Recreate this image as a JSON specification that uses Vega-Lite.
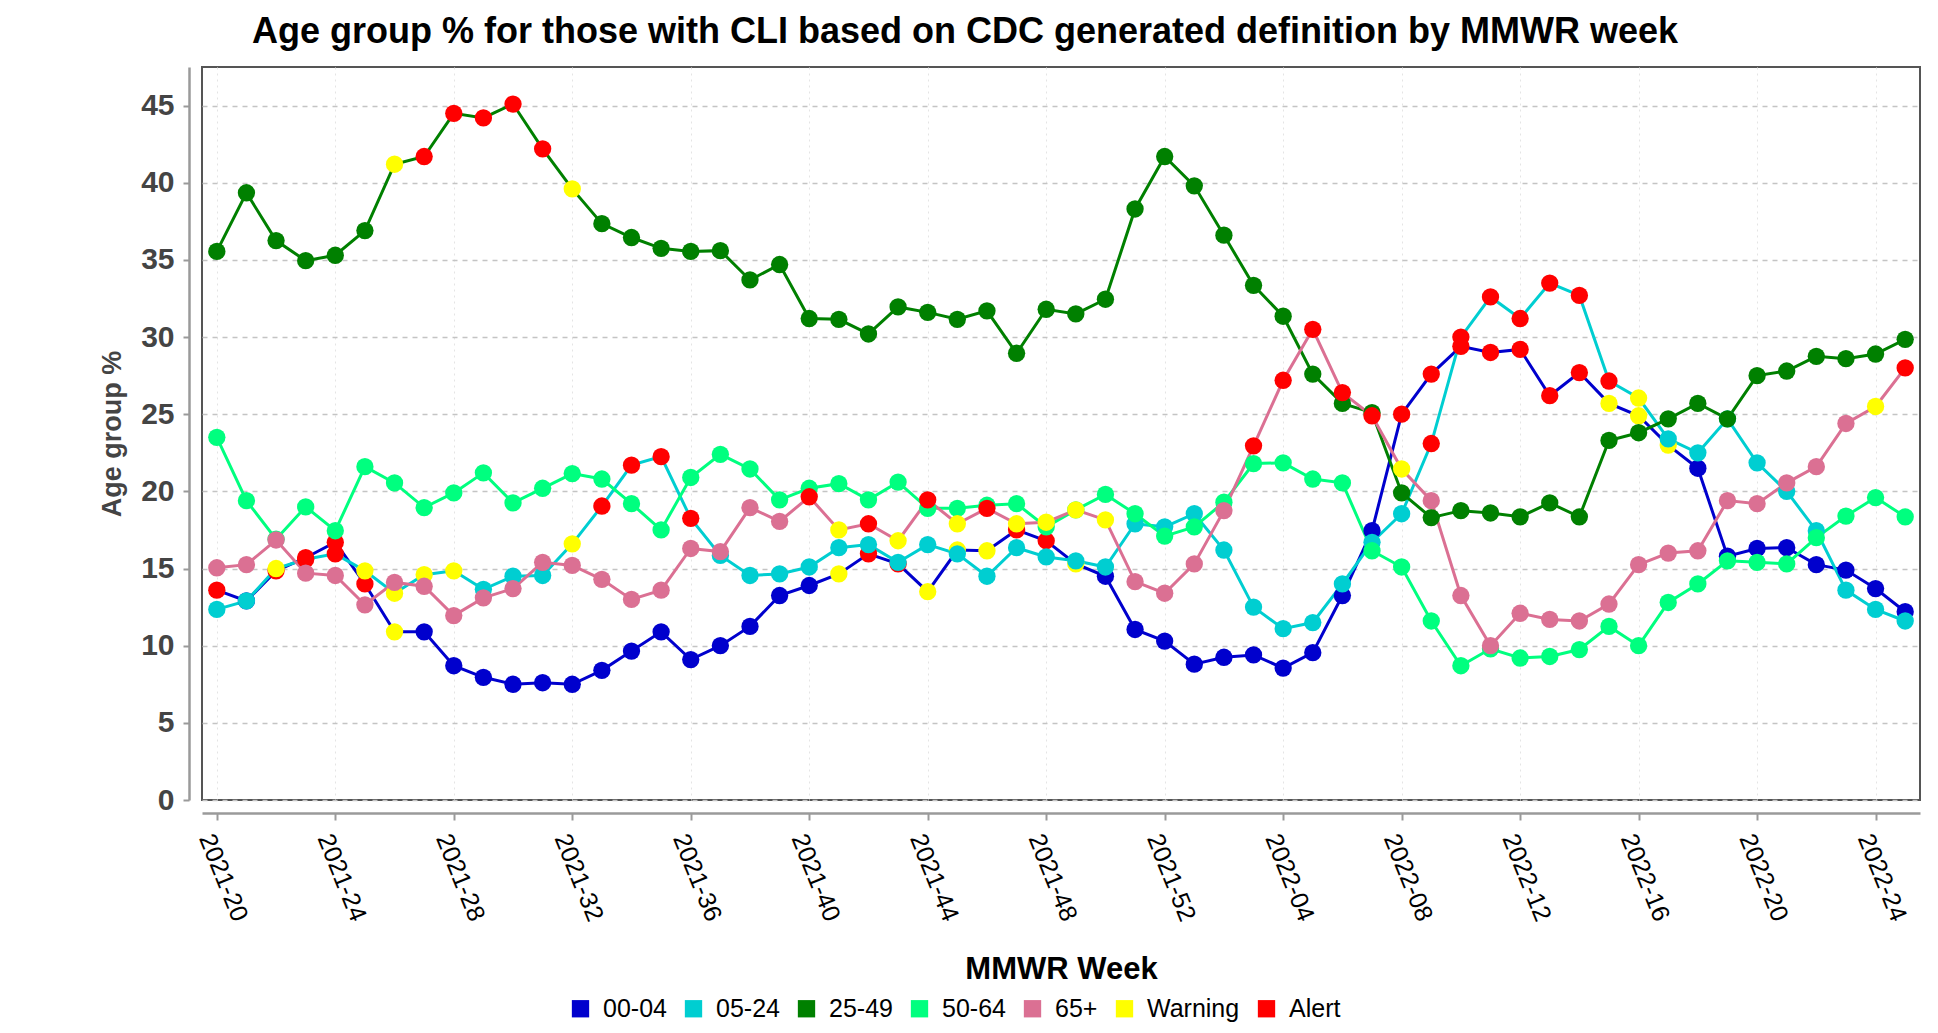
{
"$schema": "https://vega.github.io/schema/vega-lite/v6.json",
"width": 1718,
"height": 733,
"autosize": {"type": "none"},
"padding": {"left": 202, "top": 67, "right": 18, "bottom": 233},
"background": "white",
"config": {
  "font": "Liberation Sans",
  "view": {"stroke": "#555555", "strokeWidth": 2}
},
"title": {"text": "Age group % for those with CLI based on CDC generated definition by MMWR week", "anchor": "middle", "frame": "group", "dx": -96, "dy": 36, "offset": 24, "baseline": "alphabetic", "fontSize": 36, "fontWeight": "bold", "color": "black", "font": "Liberation Sans"},
"datasets": {
"cli": [
{"w":"2021-20","g":"00-04","v":13.6,"s":"Alert"},{"w":"2021-21","g":"00-04","v":12.9},{"w":"2021-22","g":"00-04","v":14.85,"s":"Alert"},{"w":"2021-23","g":"00-04","v":15.7,"s":"Alert"},{"w":"2021-24","g":"00-04","v":16.7,"s":"Alert"},{"w":"2021-25","g":"00-04","v":14.0,"s":"Alert"},{"w":"2021-26","g":"00-04","v":10.9,"s":"Warning"},{"w":"2021-27","g":"00-04","v":10.9},{"w":"2021-28","g":"00-04","v":8.7},{"w":"2021-29","g":"00-04","v":7.95},{"w":"2021-30","g":"00-04","v":7.5},{"w":"2021-31","g":"00-04","v":7.6},{"w":"2021-32","g":"00-04","v":7.5},{"w":"2021-33","g":"00-04","v":8.4},{"w":"2021-34","g":"00-04","v":9.65},{"w":"2021-35","g":"00-04","v":10.9},{"w":"2021-36","g":"00-04","v":9.1},{"w":"2021-37","g":"00-04","v":10.0},{"w":"2021-38","g":"00-04","v":11.25},{"w":"2021-39","g":"00-04","v":13.25},{"w":"2021-40","g":"00-04","v":13.9},{"w":"2021-41","g":"00-04","v":14.65,"s":"Warning"},{"w":"2021-42","g":"00-04","v":15.95,"s":"Alert"},{"w":"2021-43","g":"00-04","v":15.3,"s":"Alert"},{"w":"2021-44","g":"00-04","v":13.5,"s":"Warning"},{"w":"2021-45","g":"00-04","v":16.2,"s":"Warning"},{"w":"2021-46","g":"00-04","v":16.15,"s":"Warning"},{"w":"2021-47","g":"00-04","v":17.5,"s":"Alert"},{"w":"2021-48","g":"00-04","v":16.8,"s":"Alert"},{"w":"2021-49","g":"00-04","v":15.3,"s":"Warning"},{"w":"2021-50","g":"00-04","v":14.5},{"w":"2021-51","g":"00-04","v":11.05},{"w":"2021-52","g":"00-04","v":10.3},{"w":"2022-01","g":"00-04","v":8.8},{"w":"2022-02","g":"00-04","v":9.25},{"w":"2022-03","g":"00-04","v":9.4},{"w":"2022-04","g":"00-04","v":8.55},{"w":"2022-05","g":"00-04","v":9.55},{"w":"2022-06","g":"00-04","v":13.25},{"w":"2022-07","g":"00-04","v":17.45},{"w":"2022-08","g":"00-04","v":25.0,"s":"Alert"},{"w":"2022-09","g":"00-04","v":27.6,"s":"Alert"},{"w":"2022-10","g":"00-04","v":29.4,"s":"Alert"},{"w":"2022-11","g":"00-04","v":29.0,"s":"Alert"},{"w":"2022-12","g":"00-04","v":29.2,"s":"Alert"},{"w":"2022-13","g":"00-04","v":26.2,"s":"Alert"},{"w":"2022-14","g":"00-04","v":27.7,"s":"Alert"},{"w":"2022-15","g":"00-04","v":25.7,"s":"Warning"},{"w":"2022-16","g":"00-04","v":24.9,"s":"Warning"},{"w":"2022-17","g":"00-04","v":23.0,"s":"Warning"},{"w":"2022-18","g":"00-04","v":21.5},{"w":"2022-19","g":"00-04","v":15.8},{"w":"2022-20","g":"00-04","v":16.3},{"w":"2022-21","g":"00-04","v":16.35},{"w":"2022-22","g":"00-04","v":15.25},{"w":"2022-23","g":"00-04","v":14.9},{"w":"2022-24","g":"00-04","v":13.7},{"w":"2022-25","g":"00-04","v":12.2},
{"w":"2021-20","g":"05-24","v":12.35},{"w":"2021-21","g":"05-24","v":12.9},{"w":"2021-22","g":"05-24","v":15.0,"s":"Warning"},{"w":"2021-23","g":"05-24","v":15.6,"s":"Alert"},{"w":"2021-24","g":"05-24","v":15.95,"s":"Alert"},{"w":"2021-25","g":"05-24","v":14.85,"s":"Warning"},{"w":"2021-26","g":"05-24","v":13.4,"s":"Warning"},{"w":"2021-27","g":"05-24","v":14.6,"s":"Warning"},{"w":"2021-28","g":"05-24","v":14.85,"s":"Warning"},{"w":"2021-29","g":"05-24","v":13.65},{"w":"2021-30","g":"05-24","v":14.5},{"w":"2021-31","g":"05-24","v":14.55},{"w":"2021-32","g":"05-24","v":16.6,"s":"Warning"},{"w":"2021-33","g":"05-24","v":19.05,"s":"Alert"},{"w":"2021-34","g":"05-24","v":21.7,"s":"Alert"},{"w":"2021-35","g":"05-24","v":22.25,"s":"Alert"},{"w":"2021-36","g":"05-24","v":18.25,"s":"Alert"},{"w":"2021-37","g":"05-24","v":15.85},{"w":"2021-38","g":"05-24","v":14.55},{"w":"2021-39","g":"05-24","v":14.65},{"w":"2021-40","g":"05-24","v":15.1},{"w":"2021-41","g":"05-24","v":16.35},{"w":"2021-42","g":"05-24","v":16.55},{"w":"2021-43","g":"05-24","v":15.4},{"w":"2021-44","g":"05-24","v":16.55},{"w":"2021-45","g":"05-24","v":15.95},{"w":"2021-46","g":"05-24","v":14.5},{"w":"2021-47","g":"05-24","v":16.35},{"w":"2021-48","g":"05-24","v":15.75},{"w":"2021-49","g":"05-24","v":15.5},{"w":"2021-50","g":"05-24","v":15.1},{"w":"2021-51","g":"05-24","v":17.9},{"w":"2021-52","g":"05-24","v":17.7},{"w":"2022-01","g":"05-24","v":18.55},{"w":"2022-02","g":"05-24","v":16.2},{"w":"2022-03","g":"05-24","v":12.5},{"w":"2022-04","g":"05-24","v":11.1},{"w":"2022-05","g":"05-24","v":11.5},{"w":"2022-06","g":"05-24","v":14.0},{"w":"2022-07","g":"05-24","v":16.7},{"w":"2022-08","g":"05-24","v":18.55},{"w":"2022-09","g":"05-24","v":23.1,"s":"Alert"},{"w":"2022-10","g":"05-24","v":30.0,"s":"Alert"},{"w":"2022-11","g":"05-24","v":32.6,"s":"Alert"},{"w":"2022-12","g":"05-24","v":31.2,"s":"Alert"},{"w":"2022-13","g":"05-24","v":33.5,"s":"Alert"},{"w":"2022-14","g":"05-24","v":32.7,"s":"Alert"},{"w":"2022-15","g":"05-24","v":27.15,"s":"Alert"},{"w":"2022-16","g":"05-24","v":26.05,"s":"Warning"},{"w":"2022-17","g":"05-24","v":23.4},{"w":"2022-18","g":"05-24","v":22.5},{"w":"2022-19","g":"05-24","v":24.7},{"w":"2022-20","g":"05-24","v":21.85},{"w":"2022-21","g":"05-24","v":20.0},{"w":"2022-22","g":"05-24","v":17.45},{"w":"2022-23","g":"05-24","v":13.6},{"w":"2022-24","g":"05-24","v":12.35},{"w":"2022-25","g":"05-24","v":11.6},
{"w":"2021-20","g":"25-49","v":35.55},{"w":"2021-21","g":"25-49","v":39.35},{"w":"2021-22","g":"25-49","v":36.25},{"w":"2021-23","g":"25-49","v":34.95},{"w":"2021-24","g":"25-49","v":35.3},{"w":"2021-25","g":"25-49","v":36.9},{"w":"2021-26","g":"25-49","v":41.2,"s":"Warning"},{"w":"2021-27","g":"25-49","v":41.7,"s":"Alert"},{"w":"2021-28","g":"25-49","v":44.5,"s":"Alert"},{"w":"2021-29","g":"25-49","v":44.2,"s":"Alert"},{"w":"2021-30","g":"25-49","v":45.1,"s":"Alert"},{"w":"2021-31","g":"25-49","v":42.2,"s":"Alert"},{"w":"2021-32","g":"25-49","v":39.6,"s":"Warning"},{"w":"2021-33","g":"25-49","v":37.35},{"w":"2021-34","g":"25-49","v":36.45},{"w":"2021-35","g":"25-49","v":35.75},{"w":"2021-36","g":"25-49","v":35.55},{"w":"2021-37","g":"25-49","v":35.6},{"w":"2021-38","g":"25-49","v":33.7},{"w":"2021-39","g":"25-49","v":34.7},{"w":"2021-40","g":"25-49","v":31.2},{"w":"2021-41","g":"25-49","v":31.15},{"w":"2021-42","g":"25-49","v":30.2},{"w":"2021-43","g":"25-49","v":31.95},{"w":"2021-44","g":"25-49","v":31.6},{"w":"2021-45","g":"25-49","v":31.15},{"w":"2021-46","g":"25-49","v":31.7},{"w":"2021-47","g":"25-49","v":28.95},{"w":"2021-48","g":"25-49","v":31.8},{"w":"2021-49","g":"25-49","v":31.5},{"w":"2021-50","g":"25-49","v":32.45},{"w":"2021-51","g":"25-49","v":38.3},{"w":"2021-52","g":"25-49","v":41.7},{"w":"2022-01","g":"25-49","v":39.8},{"w":"2022-02","g":"25-49","v":36.6},{"w":"2022-03","g":"25-49","v":33.35},{"w":"2022-04","g":"25-49","v":31.35},{"w":"2022-05","g":"25-49","v":27.6},{"w":"2022-06","g":"25-49","v":25.7},{"w":"2022-07","g":"25-49","v":25.1},{"w":"2022-08","g":"25-49","v":19.9},{"w":"2022-09","g":"25-49","v":18.3},{"w":"2022-10","g":"25-49","v":18.75},{"w":"2022-11","g":"25-49","v":18.6},{"w":"2022-12","g":"25-49","v":18.35},{"w":"2022-13","g":"25-49","v":19.25},{"w":"2022-14","g":"25-49","v":18.35},{"w":"2022-15","g":"25-49","v":23.3},{"w":"2022-16","g":"25-49","v":23.8},{"w":"2022-17","g":"25-49","v":24.7},{"w":"2022-18","g":"25-49","v":25.7},{"w":"2022-19","g":"25-49","v":24.7},{"w":"2022-20","g":"25-49","v":27.5},{"w":"2022-21","g":"25-49","v":27.8},{"w":"2022-22","g":"25-49","v":28.75},{"w":"2022-23","g":"25-49","v":28.6},{"w":"2022-24","g":"25-49","v":28.9},{"w":"2022-25","g":"25-49","v":29.85},
{"w":"2021-20","g":"50-64","v":23.5},{"w":"2021-21","g":"50-64","v":19.4},{"w":"2021-22","g":"50-64","v":16.9},{"w":"2021-23","g":"50-64","v":19.0},{"w":"2021-24","g":"50-64","v":17.45},{"w":"2021-25","g":"50-64","v":21.6},{"w":"2021-26","g":"50-64","v":20.55},{"w":"2021-27","g":"50-64","v":18.95},{"w":"2021-28","g":"50-64","v":19.9},{"w":"2021-29","g":"50-64","v":21.2},{"w":"2021-30","g":"50-64","v":19.25},{"w":"2021-31","g":"50-64","v":20.2},{"w":"2021-32","g":"50-64","v":21.15},{"w":"2021-33","g":"50-64","v":20.8},{"w":"2021-34","g":"50-64","v":19.2},{"w":"2021-35","g":"50-64","v":17.5},{"w":"2021-36","g":"50-64","v":20.9},{"w":"2021-37","g":"50-64","v":22.4},{"w":"2021-38","g":"50-64","v":21.45},{"w":"2021-39","g":"50-64","v":19.45},{"w":"2021-40","g":"50-64","v":20.2},{"w":"2021-41","g":"50-64","v":20.5},{"w":"2021-42","g":"50-64","v":19.45},{"w":"2021-43","g":"50-64","v":20.6},{"w":"2021-44","g":"50-64","v":18.9},{"w":"2021-45","g":"50-64","v":18.9},{"w":"2021-46","g":"50-64","v":19.1},{"w":"2021-47","g":"50-64","v":19.2},{"w":"2021-48","g":"50-64","v":17.7},{"w":"2021-49","g":"50-64","v":18.8},{"w":"2021-50","g":"50-64","v":19.8},{"w":"2021-51","g":"50-64","v":18.55},{"w":"2021-52","g":"50-64","v":17.1},{"w":"2022-01","g":"50-64","v":17.7},{"w":"2022-02","g":"50-64","v":19.3},{"w":"2022-03","g":"50-64","v":21.8},{"w":"2022-04","g":"50-64","v":21.85},{"w":"2022-05","g":"50-64","v":20.8},{"w":"2022-06","g":"50-64","v":20.55},{"w":"2022-07","g":"50-64","v":16.15},{"w":"2022-08","g":"50-64","v":15.1},{"w":"2022-09","g":"50-64","v":11.6},{"w":"2022-10","g":"50-64","v":8.7},{"w":"2022-11","g":"50-64","v":9.8},{"w":"2022-12","g":"50-64","v":9.2},{"w":"2022-13","g":"50-64","v":9.3},{"w":"2022-14","g":"50-64","v":9.75},{"w":"2022-15","g":"50-64","v":11.25},{"w":"2022-16","g":"50-64","v":10.0},{"w":"2022-17","g":"50-64","v":12.8},{"w":"2022-18","g":"50-64","v":14.0},{"w":"2022-19","g":"50-64","v":15.5},{"w":"2022-20","g":"50-64","v":15.4},{"w":"2022-21","g":"50-64","v":15.3},{"w":"2022-22","g":"50-64","v":17.0},{"w":"2022-23","g":"50-64","v":18.4},{"w":"2022-24","g":"50-64","v":19.6},{"w":"2022-25","g":"50-64","v":18.35},
{"w":"2021-20","g":"65+","v":15.05},{"w":"2021-21","g":"65+","v":15.25},{"w":"2021-22","g":"65+","v":16.85},{"w":"2021-23","g":"65+","v":14.7},{"w":"2021-24","g":"65+","v":14.55},{"w":"2021-25","g":"65+","v":12.65},{"w":"2021-26","g":"65+","v":14.1},{"w":"2021-27","g":"65+","v":13.85},{"w":"2021-28","g":"65+","v":11.95},{"w":"2021-29","g":"65+","v":13.1},{"w":"2021-30","g":"65+","v":13.7},{"w":"2021-31","g":"65+","v":15.4},{"w":"2021-32","g":"65+","v":15.2},{"w":"2021-33","g":"65+","v":14.3},{"w":"2021-34","g":"65+","v":13.0},{"w":"2021-35","g":"65+","v":13.6},{"w":"2021-36","g":"65+","v":16.3},{"w":"2021-37","g":"65+","v":16.1},{"w":"2021-38","g":"65+","v":18.95},{"w":"2021-39","g":"65+","v":18.05},{"w":"2021-40","g":"65+","v":19.65,"s":"Alert"},{"w":"2021-41","g":"65+","v":17.5,"s":"Warning"},{"w":"2021-42","g":"65+","v":17.9,"s":"Alert"},{"w":"2021-43","g":"65+","v":16.8,"s":"Warning"},{"w":"2021-44","g":"65+","v":19.45,"s":"Alert"},{"w":"2021-45","g":"65+","v":17.9,"s":"Warning"},{"w":"2021-46","g":"65+","v":18.9,"s":"Alert"},{"w":"2021-47","g":"65+","v":17.9,"s":"Warning"},{"w":"2021-48","g":"65+","v":18.0,"s":"Warning"},{"w":"2021-49","g":"65+","v":18.8,"s":"Warning"},{"w":"2021-50","g":"65+","v":18.15,"s":"Warning"},{"w":"2021-51","g":"65+","v":14.15},{"w":"2021-52","g":"65+","v":13.4},{"w":"2022-01","g":"65+","v":15.3},{"w":"2022-02","g":"65+","v":18.75},{"w":"2022-03","g":"65+","v":22.95,"s":"Alert"},{"w":"2022-04","g":"65+","v":27.2,"s":"Alert"},{"w":"2022-05","g":"65+","v":30.5,"s":"Alert"},{"w":"2022-06","g":"65+","v":26.4,"s":"Alert"},{"w":"2022-07","g":"65+","v":24.9,"s":"Alert"},{"w":"2022-08","g":"65+","v":21.45,"s":"Warning"},{"w":"2022-09","g":"65+","v":19.4},{"w":"2022-10","g":"65+","v":13.25},{"w":"2022-11","g":"65+","v":10.0},{"w":"2022-12","g":"65+","v":12.1},{"w":"2022-13","g":"65+","v":11.7},{"w":"2022-14","g":"65+","v":11.6},{"w":"2022-15","g":"65+","v":12.7},{"w":"2022-16","g":"65+","v":15.25},{"w":"2022-17","g":"65+","v":16.0},{"w":"2022-18","g":"65+","v":16.15},{"w":"2022-19","g":"65+","v":19.4},{"w":"2022-20","g":"65+","v":19.2},{"w":"2022-21","g":"65+","v":20.55},{"w":"2022-22","g":"65+","v":21.6},{"w":"2022-23","g":"65+","v":24.4},{"w":"2022-24","g":"65+","v":25.5,"s":"Warning"},{"w":"2022-25","g":"65+","v":28.0,"s":"Alert"}
]
},
"data": {"name": "cli"},
"transform": [{"calculate": "isValid(datum.s) ? datum.s : datum.g", "as": "cat"}],
"encoding": {
  "x": {"field": "w", "type": "ordinal", "scale": {"type": "point", "padding": 0.5},
    "axis": {"values": ["2021-20","2021-24","2021-28","2021-32","2021-36","2021-40","2021-44","2021-48","2021-52","2022-04","2022-08","2022-12","2022-16","2022-20","2022-24"],
      "offset": 13, "domainColor": "#9a9a9a", "domainWidth": 2.5, "tickColor": "#9a9a9a", "tickWidth": 2, "tickSize": 7,
      "labelAngle": 68, "labelAlign": "left", "labelBaseline": "top", "labelFontSize": 25, "labelColor": "black", "labelPadding": 10,
      "grid": true, "gridColor": "#e4e4e4", "gridDash": [2, 4], "gridWidth": 1,
      "title": "MMWR Week", "titleFontSize": 31, "titleFontWeight": "bold", "titleColor": "black", "titlePadding": 30}},
  "y": {"field": "v", "type": "quantitative", "scale": {"domain": [0, 47.5], "nice": false},
    "axis": {"values": [0,5,10,15,20,25,30,35,40,45], "offset": 13, "domainColor": "#9a9a9a", "domainWidth": 2.5, "tickColor": "#9a9a9a", "tickWidth": 2, "tickSize": 6,
      "labelFontSize": 30, "labelFontWeight": "bold", "labelColor": "#444444", "labelPadding": 9,
      "grid": true, "gridColor": "#c4c4c4", "gridDash": [5, 5], "gridWidth": 1.5,
      "title": "Age group %", "titleFontSize": 27, "titleFontWeight": "bold", "titleColor": "#444444", "titlePadding": 14}}
},
"resolve": {"legend": {"color": "independent"}},
"layer": [
  {"mark": {"type": "line", "strokeWidth": 3},
   "encoding": {"color": {"field": "g", "type": "nominal",
     "scale": {"domain": ["00-04","05-24","25-49","50-64","65+","Warning","Alert"], "range": ["#0000CD","#00CED1","#008000","#00FF7F","#DB7093","#FFFF00","#FF0000"]},
     "legend": null}}},
  {"mark": {"type": "point", "filled": true, "size": 300, "opacity": 1},
   "encoding": {"color": {"field": "cat", "type": "nominal",
     "scale": {"domain": ["00-04","05-24","25-49","50-64","65+","Warning","Alert"], "range": ["#0000CD","#00CED1","#008000","#00FF7F","#DB7093","#FFFF00","#FF0000"]},
     "legend": {"orient": "none", "legendX": 366, "legendY": 929, "direction": "horizontal", "columns": 7, "title": null,
       "symbolType": "square", "symbolSize": 300, "symbolStrokeWidth": 0, "labelFontSize": 25, "labelColor": "black", "labelOffset": 10, "columnPadding": 14, "padding": 0}}}}
]
}
